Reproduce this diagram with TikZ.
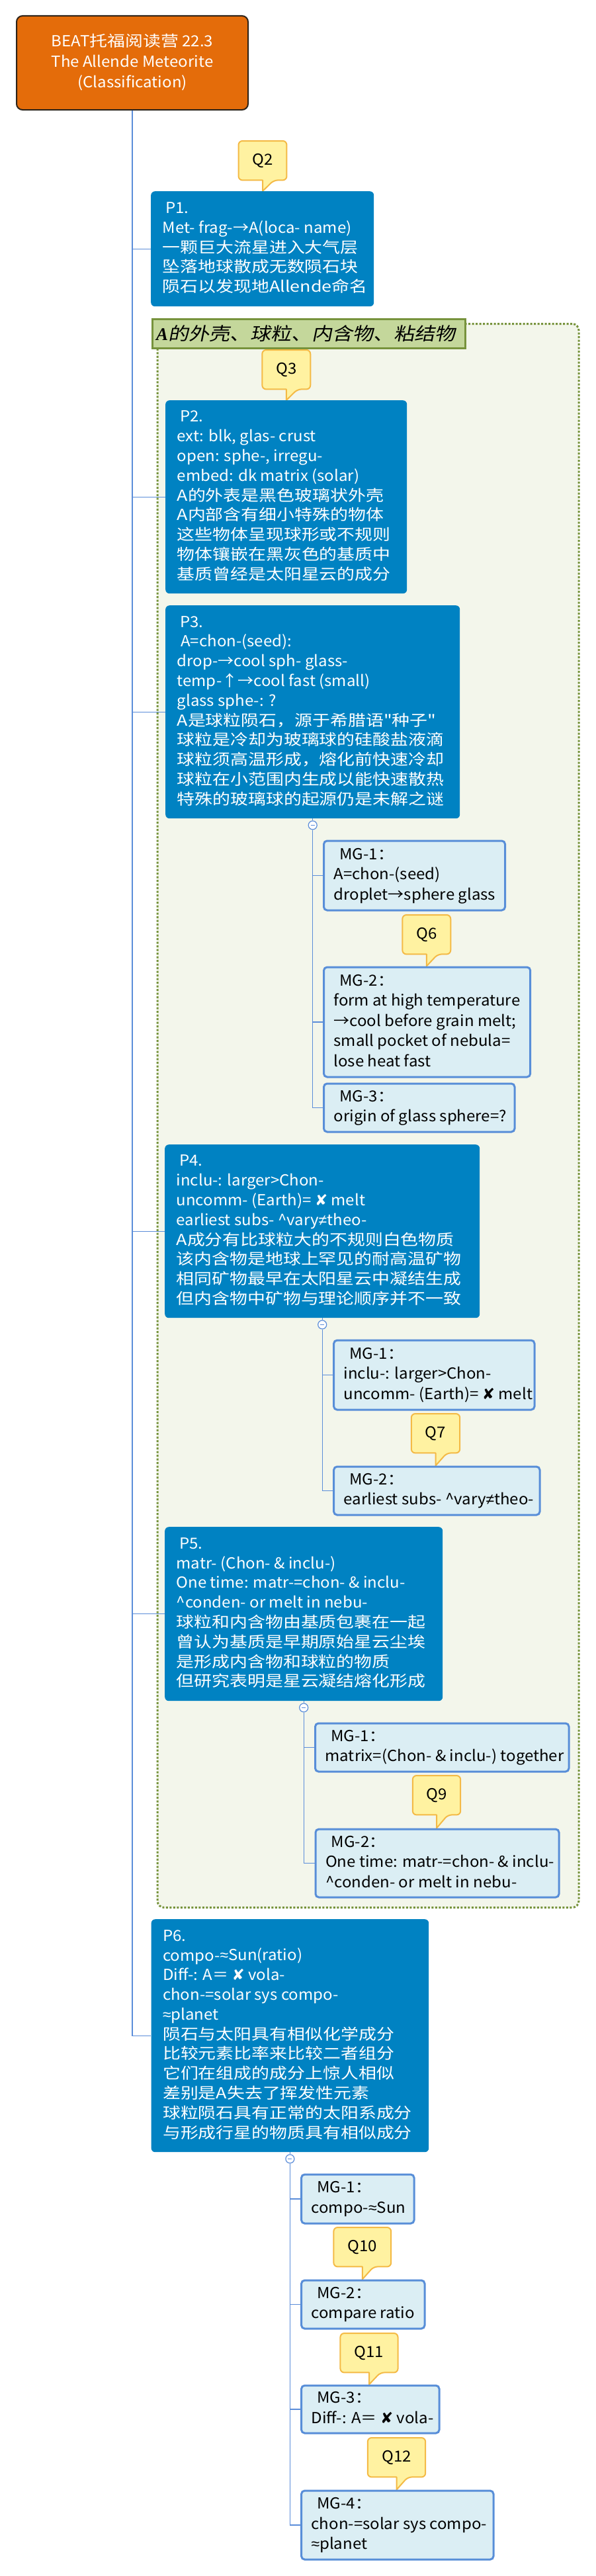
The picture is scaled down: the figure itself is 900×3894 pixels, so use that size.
\documentclass[tikz,border=0pt]{standalone}
\usepackage{fontspec}
\setmainfont{Noto Sans CJK SC}[FakeStretch=1.045]
\newfontfamily\cjk{Noto Sans CJK SC}[FakeStretch=1.17]
\newfontfamily\dejavu{DejaVu Sans}
\newfontfamily\cjkslant{Noto Sans CJK SC}[FakeSlant=0.2,FakeStretch=1.15]
\newfontfamily\libserif{Liberation Serif}
\newfontfamily\libsans{Liberation Sans}
\usetikzlibrary{calc}
\pgfdeclarelayer{framelayer}
\pgfdeclarelayer{qlayer}
\pgfsetlayers{framelayer,qlayer,main}
\definecolor{connc}{RGB}{91,141,217}
\definecolor{rootc}{RGB}{228,108,10}
\definecolor{rootb}{RGB}{45,35,25}
\definecolor{pc}{RGB}{0,130,194}
\definecolor{mgc}{RGB}{219,238,244}
\definecolor{mgb}{RGB}{88,142,216}
\definecolor{qc}{RGB}{255,242,161}
\definecolor{qb}{RGB}{244,186,70}
\definecolor{hdrc}{RGB}{196,215,155}
\definecolor{hdrb}{RGB}{119,147,60}
\definecolor{framec}{RGB}{243,246,235}
\newcommand\xm{{\dejavu ✘}}
\newcommand\apx{{\libsans ≈}}
\newcommand\neqx{{\libsans ≠}}
\newcommand\C[1]{{\cjk #1}}
% width, left pad, lines
\newcommand\boxtxt[3]{\makebox[#1pt][l]{\hspace*{#2pt}\begin{tabular}{@{}l@{}}#3\end{tabular}}}
\newcommand\plab[1]{\hspace*{4.7pt}#1}
\newcommand\mlab[1]{\hspace*{8.8pt}#1}
\newcommand\qcall[6]{%
  \node[qtext, minimum width=#4pt] (#1) at (#2,#3) {#6};
  \begin{pgfonlayer}{qlayer}
    \path[qshape] (#1.south) [rounded corners=6pt] -- (#1.south west) -- (#1.north west)
      -- (#1.north east) -- (#1.south east) -- ([xshift=17pt]#1.south) [sharp corners]
      -- (#1.south |- #5.north) -- cycle;
  \end{pgfonlayer}}
\tikzset{
  conn/.style={draw=connc, line width=1.2pt},
  rootbox/.style={rectangle, rounded corners=9pt, fill=rootc, draw=rootb, line width=2pt,
    text=white, inner sep=0pt, anchor=north west, font=\fontsize{23}{31}\selectfont},
  pbox/.style={rectangle, rounded corners=6pt, fill=pc, text=white, inner sep=0pt,
    anchor=north west, font=\fontsize{23}{29.8}\selectfont},
  mgbox/.style={rectangle, rounded corners=5pt, fill=mgc, draw=mgb, line width=3pt,
    text=black, inner sep=0pt, anchor=north west, font=\fontsize{23}{30.5}\selectfont},
  qtext/.style={rectangle, inner sep=0pt, anchor=north, minimum height=59pt, text=black,
    font=\fontsize{23}{28}\selectfont},
  qshape/.style={fill=qc, draw=qb, line width=2pt, line join=round},
  hdrbox/.style={rectangle, fill=hdrc, draw=hdrb, line width=3pt, inner sep=0pt,
    anchor=north west, text=black, font=\fontsize{27}{30}\selectfont},
  framebox/.style={rectangle, rounded corners=10pt, fill=framec, draw=hdrb, line width=3pt,
    dash pattern=on 3pt off 2.5pt, inner sep=0pt, anchor=north west},
  toggle/.style={circle, draw=connc, fill=white, line width=1.2pt, minimum size=13pt, inner sep=0pt},
  minus/.style={draw=connc, line width=0.8pt}
}
\begin{document}
\begin{tikzpicture}[x=1pt,y=-1pt]
\useasboundingbox (0,0) rectangle (900,3894);
\begin{pgfonlayer}{framelayer}
  \fill[white] (0,0) rectangle (900,3894);
  \node[framebox, minimum width=636.9pt, minimum height=2394pt] (frame) at (236.6,488) {};
\end{pgfonlayer}

% root
\node[rootbox, minimum width=350pt, minimum height=142pt] (root) at (24,23)
  {\begin{tabular}{@{}c@{}}BEAT\C{托福阅读营} 22.3\\The Allende Meteorite\\(Classification)\end{tabular}};

% P1
\node[pbox, minimum height=174pt] (p1) at (228,289) {\boxtxt{337}{17.5}{%
\plab{P1.}\\
Met- frag-→A(loca- name)\\
\C{一颗巨大流星进入大气层}\\
\C{坠落地球散成无数陨石块}\\
\C{陨石以发现地Allende命名}}};

% header
\node[hdrbox, minimum height=44pt] (hdr) at (228.5,480.5)
  {\makebox[473pt][l]{\hspace*{6pt}{\libserif\bfseries\itshape A}{\cjkslant 的外壳、球粒、内含物、粘结物}}};

% P2
\node[pbox, minimum height=292pt] (p2) at (250,605) {\boxtxt{365}{17.5}{%
\plab{P2.}\\
ext: blk, glas- crust\\
open: sphe-, irregu-\\
embed: dk matrix (solar)\\
\C{A的外表是黑色玻璃状外壳}\\
\C{A内部含有细小特殊的物体}\\
\C{这些物体呈现球形或不规则}\\
\C{物体镶嵌在黑灰色的基质中}\\
\C{基质曾经是太阳星云的成分}}};

% P3
\node[pbox, minimum height=322pt] (p3) at (250,915) {\boxtxt{445}{17.5}{%
\plab{P3.}\\
\hspace*{5.5pt}A=chon-(seed):\\
drop-→cool sph- glass-\\
temp-↑→cool fast (small)\\
glass sphe-: ?\\
\C{A是球粒陨石，源于希腊语"种子"}\\
\C{球粒是冷却为玻璃球的硅酸盐液滴}\\
\C{球粒须高温形成，熔化前快速冷却}\\
\C{球粒在小范围内生成以能快速散热}\\
\C{特殊的玻璃球的起源仍是未解之谜}}};
\node[toggle] (c3) at ([yshift=-10pt]p3.south) {};
\node[mgbox, minimum height=105pt] (m31) at (488,1269.5) {\boxtxt{274}{15}{%
\mlab{MG-1：}\\
A=chon-(seed)\\
droplet→sphere glass}};
\node[mgbox, minimum height=166pt] (m32) at (488,1460.5) {\boxtxt{312.2}{15}{%
\mlab{MG-2：}\\
form at high temperature\\
→cool before grain melt;\\
small pocket of nebula=\\
lose heat fast}};
\node[mgbox, minimum height=73pt] (m33) at (488,1636.5) {\boxtxt{288.5}{15}{%
\mlab{MG-3：}\\
origin of glass sphere=?}};

% P4
\node[pbox, minimum height=262pt] (p4) at (249,1730) {\boxtxt{476}{17.5}{%
\plab{P4.}\\
inclu-: larger>Chon-\\
uncomm- (Earth)= \xm{} melt\\
earliest subs- \textasciicircum vary\neqx theo-\\
\C{A成分有比球粒大的不规则白色物质}\\
\C{该内含物是地球上罕见的耐高温矿物}\\
\C{相同矿物最早在太阳星云中凝结生成}\\
\C{但内含物中矿物与理论顺序并不一致}}};
\node[toggle] (c4) at ([yshift=-10pt]p4.south) {};
\node[mgbox, minimum height=105pt] (m41) at (503.1,2024.5) {\boxtxt{303.4}{15}{%
\mlab{MG-1：}\\
inclu-: larger>Chon-\\
uncomm- (Earth)= \xm{} melt}};
\node[mgbox, minimum height=73pt] (m42) at (503.1,2215.5) {\boxtxt{311.4}{15}{%
\mlab{MG-2：}\\
earliest subs- \textasciicircum vary\neqx theo-}};

% P5
\node[pbox, minimum height=263pt] (p5) at (249,2308) {\boxtxt{420}{17.5}{%
\plab{P5.}\\
matr- (Chon- \& inclu-)\\
One time: matr-=chon- \& inclu-\\
\textasciicircum conden- or melt in nebu-\\
\C{球粒和内含物由基质包裹在一起}\\
\C{曾认为基质是早期原始星云尘埃}\\
\C{是形成内含物和球粒的物质}\\
\C{但研究表明是星云凝结熔化形成}}};
\node[toggle] (c5) at ([yshift=-10pt]p5.south) {};
\node[mgbox, minimum height=73pt] (m51) at (475,2603.5) {\boxtxt{383.5}{15}{%
\mlab{MG-1：}\\
matrix=(Chon- \& inclu-) together}};
\node[mgbox, minimum height=103pt] (m52) at (475.5,2763.5) {\boxtxt{368}{15}{%
\mlab{MG-2：}\\
One time: matr-=chon- \& inclu-\\
\textasciicircum conden- or melt in nebu-}};

% P6
\node[pbox, minimum height=352pt] (p6) at (228.4,2901) {\boxtxt{419.6}{17.5}{%
P6.\\
compo-\apx Sun(ratio)\\
Diff-: A＝ \xm{} vola-\\
chon-=solar sys compo-\\
\apx planet\\
\C{陨石与太阳具有相似化学成分}\\
\C{比较元素比率来比较二者组分}\\
\C{它们在组成的成分上惊人相似}\\
\C{差别是A失去了挥发性元素}\\
\C{球粒陨石具有正常的太阳系成分}\\
\C{与形成行星的物质具有相似成分}}};
\node[toggle] (c6) at ([yshift=-10pt]p6.south) {};
\node[mgbox, minimum height=74pt] (m61) at (454.1,3285.5) {\boxtxt{170.4}{15}{%
\mlab{MG-1：}\\
compo-\apx Sun}};
\node[mgbox, minimum height=73pt] (m62) at (454.1,3445.5) {\boxtxt{186.4}{15}{%
\mlab{MG-2：}\\
compare ratio}};
\node[mgbox, minimum height=72pt] (m63) at (454.1,3604.5) {\boxtxt{208.4}{15}{%
\mlab{MG-3：}\\
Diff-: A＝ \xm{} vola-}};
\node[mgbox, minimum height=104pt] (m64) at (454.1,3763.5) {\boxtxt{290.4}{15}{%
\mlab{MG-4：}\\
chon-=solar sys compo-\\
\apx planet}};

% callouts
\qcall{q2}{397}{213}{72.5}{p1}{Q2}
\qcall{q3}{432.8}{529}{72.5}{p2}{Q3}
\qcall{q6}{644.8}{1383}{72.5}{m32}{Q6}
\qcall{q7}{658.5}{2137}{73}{m42}{Q7}
\qcall{q9}{660}{2684}{72}{m52}{Q9}
\qcall{q10}{547.8}{3367}{86.4}{m62}{Q10}
\qcall{q11}{558}{3527}{86.7}{m63}{Q11}
\qcall{q12}{599.5}{3685}{87}{m64}{Q12}

% connectors
\foreach \p in {p1,p2,p3,p4,p5,p6}{\draw[conn] (root.south) |- (\p.west);}
\draw[conn] (p3.south) -- (c3.north);
\draw[conn] (p4.south) -- (c4.north);
\draw[conn] (p5.south) -- (c5.north);
\draw[conn] (p6.south) -- (c6.north);
\foreach \m in {m31,m32,m33}{\draw[conn] (c3.south) |- (\m.west);}
\foreach \m in {m41,m42}{\draw[conn] (c4.south) |- (\m.west);}
\foreach \m in {m51,m52}{\draw[conn] (c5.south) |- (\m.west);}
\foreach \m in {m61,m62,m63,m64}{\draw[conn] (c6.south) |- (\m.west);}
\foreach \c in {c3,c4,c5,c6}{\draw[minus] ([xshift=-3pt]\c.center) -- ([xshift=3pt]\c.center);}
\end{tikzpicture}
\end{document}
